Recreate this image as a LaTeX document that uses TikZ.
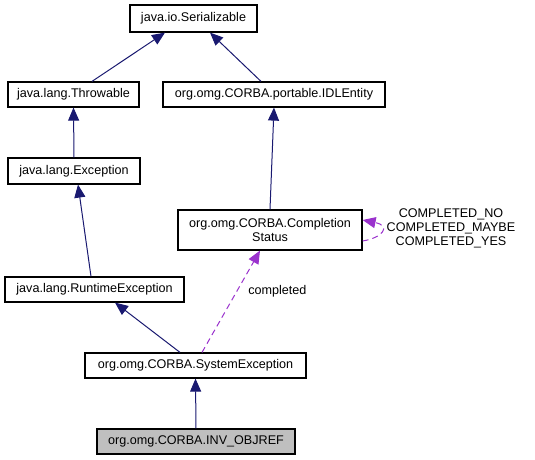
\documentclass[tikz,border=0pt]{standalone}
\usepackage{fontspec}
\setmainfont{Liberation Sans}
\usetikzlibrary{arrows.meta,positioning}
\definecolor{navy}{HTML}{191970}
\definecolor{orchid}{HTML}{9A32CD}
\definecolor{boxgray}{HTML}{BFBFBF}

\begin{document}
\begin{tikzpicture}[->, >={Triangle[width=11bp,length=13bp]}, x=1bp, y=-1bp, auto, font=\fontsize{12.6bp}{14bp}\selectfont]
        \tikzstyle{cls}=[draw=black, line width=1.2bp, fill=white, minimum height=25bp, inner sep=0pt, align=center]
        \tikzstyle{inherit}=[draw=navy, line width=1bp]
        \tikzstyle{usage}=[draw=orchid, line width=1bp, dash pattern=on 6bp off 4bp]
        \tikzstyle{lbl}=[inner sep=0pt, align=center, text=black]
        \useasboundingbox (0,0) rectangle (535,460);
        \node[cls, minimum width=127bp, minimum height=27bp] (S) at (193.5,18.5) {java.io.Serializable};
        \node[cls, minimum width=131bp] (T) at (73.5,94.5)  {java.lang.Throwable};
        \node[cls, minimum width=222bp] (I) at (274,94.5)   {org.omg.CORBA.portable.IDLEntity};
        \node[cls, minimum width=132bp, minimum height=26bp] (E) at (74,171) {java.lang.Exception};
        \node[cls, minimum width=184bp, minimum height=40bp] (C) at (270,230) {org.omg.CORBA.Completion\\Status};
        \node[cls, minimum width=179bp] (R) at (94.5,289.5) {java.lang.RuntimeException};
        \node[cls, minimum width=221bp] (X) at (195.5,365.5) {org.omg.CORBA.SystemException};
        \node[cls, minimum width=198bp, fill=boxgray] (O) at (196,441.5) {org.omg.CORBA.INV\_OBJREF};
        \node[lbl] (L) at (451,228) {COMPLETED\_NO\\COMPLETED\_MAYBE\\COMPLETED\_YES};
        \path
        ([xshift=18.5bp]T.north)  edge[inherit] ([xshift=-28.5bp]S.south)
        ([xshift=-13bp]I.north)   edge[inherit] ([xshift=16.5bp]S.south)
        (E.north)                 edge[inherit] (T.south)
        (C.north)                 edge[inherit] (I.south)
        ([xshift=-3.5bp]R.north)  edge[inherit] ([xshift=4bp]E.south)
        ([xshift=-15.5bp]X.north) edge[inherit] ([xshift=20.5bp]R.south)
        (O.north)                 edge[inherit] (X.south)
        ([xshift=6.5bp]X.north)   edge[usage] node[lbl, pos=0.6, right=11bp] {completed} ([xshift=-10bp]C.south);
        \draw[usage] ([yshift=-11bp]C.east) .. controls (382,238) and (392,226) .. ([yshift=10bp]C.east);
\end{tikzpicture}
\end{document}
